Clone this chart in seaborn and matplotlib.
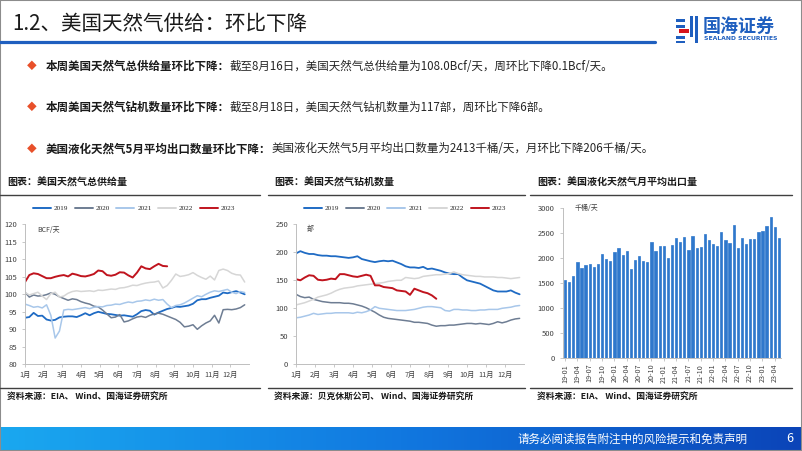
import matplotlib
matplotlib.use("Agg")
import matplotlib.pyplot as plt
import matplotlib.patches as mpatches
from matplotlib.lines import Line2D
from matplotlib.colors import LinearSegmentedColormap
import numpy as np
import pandas as pd
import seaborn as sns

# Dados (valores semanais, 52 semanas por ano)
anos = ["2019", "2020", "2021", "2022", "2023"]
cores_anos = ["#1f6bc4", "#6e7d93", "#a8c7ea", "#d6d6d6", "#c0141e"]

oferta_2019 = [93.3, 93.5, 94.7, 93.8, 93.9, 92.8, 92.5, 92.7, 93.4, 93.6, 93.7, 93.7, 93.5,
               94.0, 94.6, 94.0, 94.6, 95.0, 94.7, 94.4, 94.3, 94.1, 93.9, 94.0, 93.8, 93.6,
               94.3, 95.2, 95.5, 95.3, 94.2, 94.8, 95.3, 95.8, 96.1, 96.5, 96.4, 96.6, 96.8,
               97.3, 98.3, 98.6, 98.6, 99.0, 99.3, 99.6, 100.5, 100.3, 100.6, 100.9, 100.5, 100.0]
oferta_2020 = [100.6, 99.2, 99.8, 99.5, 99.6, 99.9, 100.4, 100.0, 99.3, 98.8, 98.3, 98.7, 98.5,
               97.9, 97.5, 97.2, 96.6, 96.4, 95.5, 94.4, 93.3, 93.5, 94.2, 92.1, 92.4, 93.0,
               93.5, 93.7, 93.4, 94.0, 94.4, 94.6, 94.3, 93.8, 93.3, 92.8, 92.0, 90.7, 90.9,
               91.3, 90.0, 91.0, 91.8, 92.4, 94.0, 91.8, 95.6, 95.7, 95.6, 95.8, 96.2, 97.0]
oferta_2021 = [97.2, 96.8, 96.3, 96.5, 96.1, 97.0, 94.0, 87.5, 89.5, 95.5, 95.7, 95.6, 95.8,
               96.0, 96.2, 95.9, 96.3, 96.5, 96.4, 96.8, 96.9, 97.2, 97.1, 97.5, 97.8, 97.6,
               98.0, 98.1, 98.4, 98.2, 98.6, 98.3, 98.5, 97.2, 96.2, 96.8, 97.0, 97.5, 98.2,
               98.9, 99.6, 99.3, 100.0, 100.6, 101.0, 100.8, 101.1, 101.4, 100.6, 100.2, 100.8, 100.5]
oferta_2022 = [100.5, 99.8, 100.2, 100.6, 99.5, 98.5, 100.2, 100.6, 99.2, 99.5, 100.3, 100.8, 101.0,
               100.8, 100.9, 101.0, 100.8, 101.2, 101.1, 101.3, 101.5, 101.4, 101.8, 101.9, 102.2, 102.6,
               102.5, 102.9, 103.2, 103.4, 103.5, 103.8, 101.8, 102.5, 104.0, 105.8, 105.1, 105.3, 105.6,
               106.2, 105.4, 104.8, 104.3, 105.2, 104.1, 106.8, 107.2, 106.8, 106.0, 105.6, 105.5, 103.5]
oferta_2023 = [103.5, 105.5, 106.0, 105.8, 105.2, 104.6, 104.6, 105.0, 105.3, 105.5, 105.1, 105.9,
               105.6, 105.2, 105.1, 105.4, 105.8, 106.8, 106.6, 105.5, 105.3, 105.6, 106.3, 106.2,
               105.4, 104.8, 106.2, 108.0, 107.4, 107.2, 108.0, 108.7, 108.1, 108.0]

sondas_2019 = [198, 202, 199, 197, 197, 195, 194, 194, 193, 193, 192, 191, 190, 191, 193, 188, 186,
               184, 182.5, 184, 185, 184, 185, 182, 179, 175, 173, 173, 172, 174, 170, 171, 169, 167,
               164, 162, 161, 161, 155, 150, 148, 146, 144, 140, 136, 132, 130, 130, 130, 132, 128, 125]
sondas_2020 = [125, 121, 119, 120, 116, 114, 112, 111, 110, 110, 110, 109, 109, 108, 106, 104, 101,
               97, 93, 88, 84, 82, 81, 80, 79, 78, 77, 75, 75, 74, 73, 70, 68, 69, 69, 70, 70, 71, 72,
               73, 73, 72, 73, 72, 71, 73, 76, 74, 76, 79, 81, 82]
sondas_2021 = [83, 84, 86, 88, 91, 89, 90, 91, 91, 92, 92, 92, 92, 91, 93, 92, 94, 97, 103, 100, 99,
               98, 97, 96, 96, 96, 97, 98, 100, 102, 103, 103, 102, 101, 96, 95, 98, 98, 97, 97, 96,
               96, 97, 97, 98, 98, 98, 100, 101, 102, 104, 105]
sondas_2022 = [106, 108, 110, 113, 116, 120, 122, 124, 127, 131, 134, 136, 137, 138, 140, 141, 142,
               143, 144, 145, 146, 148, 149, 150, 150, 155, 154, 153, 154, 157, 158, 159, 160, 160,
               161, 162, 165, 162, 160, 159, 158, 157, 157, 156, 156, 156, 155, 155, 154, 153, 154, 155]
sondas_2023 = [152, 150, 155, 159, 158, 151, 150, 151, 153, 152, 161, 161, 159, 157, 156, 158, 160,
               158, 141, 141, 138, 137, 136, 132, 131, 130, 124, 135, 132, 129, 127, 123, 117]

# Exportação mensal de GNL (jan/2019 - mai/2023)
exportacao_lng = [1560, 1520, 1650, 1920, 1800, 1860, 1890, 1830, 1880, 2080, 1980, 1950,
                  2130, 2200, 2060, 2140, 1790, 1970, 2040, 1950, 1930, 2330, 2150, 2240,
                  2250, 2000, 2260, 2410, 2330, 2420, 2170, 2450, 2210, 2220, 2490, 2370,
                  2280, 2240, 2520, 2360, 2300, 2670, 2200, 2400, 2290, 2380, 2390, 2520,
                  2550, 2640, 2830, 2619, 2413]
rotulos_lng = [f"{a}-{m:02d}" for a in range(19, 24) for m in range(1, 13)][:len(exportacao_lng)]
meses = ["1月", "2月", "3月", "4月", "5月", "6月", "7月", "8月", "9月", "10月", "11月", "12月"]

sns.set_style("white")
plt.rcParams["font.family"] = ["Noto Sans CJK SC", "DejaVu Sans"]
plt.rcParams["axes.unicode_minus"] = False

W, H = 802, 451
fig = plt.figure(figsize=(W / 100, H / 100), dpi=100)


def fx(x):
    return x / W


def fy(y):
    return 1 - y / H


def eixo(x0, y0, x1, y1):
    return fig.add_axes([fx(x0), fy(y1), (x1 - x0) / W, (y1 - y0) / H])


def linha_fig(x0, x1, y, cor, lw):
    fig.add_artist(Line2D([fx(x0), fx(x1)], [fy(y), fy(y)], color=cor, lw=lw))


def estilo_eixo(ax):
    for lado in ["top", "right"]:
        ax.spines[lado].set_visible(False)
    for lado in ["left", "bottom"]:
        ax.spines[lado].set_color("#bfbfbf")
        ax.spines[lado].set_linewidth(0.7)
    ax.tick_params(axis="both", colors="#bfbfbf", labelcolor="#404040", length=2, width=0.6,
                   labelsize=5.5, left=True, bottom=True)
    ax.set_xlabel("")
    ax.set_ylabel("")


# Faz o gráfico de linhas com uma série por ano
def grafico_linhas(ax, series, ylim, yticks, unidade, x_unidade, y_unidade, legenda_x):
    tabelas = []
    for ano, valores in zip(anos, series):
        tabelas.append(pd.DataFrame({"mes": np.arange(len(valores)) * 12 / 52,
                                     "valor": valores, "ano": ano}))
    dados = pd.concat(tabelas, ignore_index=True)
    sns.lineplot(data=dados, x="mes", y="valor", hue="ano", hue_order=anos,
                 palette=cores_anos, linewidth=1.1, legend=False, ax=ax)
    ax.lines[0].set_linewidth(1.3)
    ax.lines[-1].set_linewidth(1.4)
    ax.set_xlim(0, 12)
    ax.set_ylim(*ylim)
    ax.set_yticks(yticks)
    ax.set_xticks(range(12))
    ax.set_xticklabels(meses)
    estilo_eixo(ax)
    ax.tick_params(axis="x", labelsize=5.2, pad=3)
    fig.text(fx(x_unidade), fy(y_unidade), unidade, fontsize=5, color="#404040", va="center")
    handles = [Line2D([], [], color=c, lw=1.4) for c in cores_anos]
    ax.legend(handles, anos, loc="center", bbox_to_anchor=(fx(legenda_x), fy(208)),
              bbox_transform=fig.transFigure, ncol=5, frameon=False,
              prop={"family": "Liberation Serif", "size": 5.2}, handlelength=2.5,
              handletextpad=0.4, columnspacing=0.9)


# Moldura do slide
fig.add_artist(mpatches.Rectangle((0, 0), 1, 1, transform=fig.transFigure, fill=False,
                                  edgecolor="#8c8c8c", lw=1.5))

# Título e linha azul
fig.text(fx(12), fy(24), "1.2、美国天然气供给：环比下降", fontsize=14.8, color="#1a1a1a", va="center")
linha_fig(0, 655, 41.5, "#1f5fbf", 2.3)

# Logo
ax_logo = eixo(676, 16, 698, 43)
ax_logo.set_xlim(0, 22)
ax_logo.set_ylim(0, 27)
ax_logo.axis("off")
for (x, y, w, h, c) in [(0, 21, 9, 3, "#1f5fbf"), (0, 15, 9, 3, "#1f5fbf"), (3, 10, 10, 4, "#d7141b"),
                        (0, 4, 9, 3, "#1f5fbf"), (0, 0, 9, 2.5, "#1f5fbf"), (14, 6, 3, 21, "#1f5fbf"),
                        (19, 0, 3, 27, "#1f5fbf")]:
    ax_logo.add_patch(mpatches.Rectangle((x, y), w, h, color=c, lw=0))
fig.text(fx(703), fy(26), "国海证券", fontsize=13, color="#1f5fbf", va="center", fontweight="bold")
fig.text(fx(704), fy(39), "SEALAND SECURITIES", fontsize=4.4, color="#1f5fbf", va="center",
         fontweight="bold", family="DejaVu Sans")

# Tópicos
topicos = [
    (66, "本周美国天然气总供给量环比下降：", "截至8月16日，美国天然气总供给量为108.0Bcf/天，周环比下降0.1Bcf/天。"),
    (107, "本周美国天然气钻机数量环比下降：", "截至8月18日，美国天然气钻机数量为117部，周环比下降6部。"),
    (149, "美国液化天然气5月平均出口数量环比下降：", "美国液化天然气5月平均出口数量为2413千桶/天，月环比下降206千桶/天。"),
]
fig.canvas.draw()
renderer = fig.canvas.get_renderer()
for y, negrito, normal in topicos:
    fig.text(fx(27), fy(y), "◆", fontsize=7, color="#e8502a", va="center")
    t = fig.text(fx(46), fy(y), negrito, fontsize=8.3, fontweight="bold", color="#1a1a1a", va="center")
    bb = t.get_window_extent(renderer)
    fig.text(bb.x1 / fig.bbox.width, fy(y), normal, fontsize=8.3, color="#262626", va="center")

# Cabeçalhos e rodapés dos painéis
paineis = [
    (0, 260, 7, "图表：美国天然气总供给量", "资料来源：EIA、 Wind、国海证券研究所"),
    (268, 525, 274, "图表：美国天然气钻机数量", "资料来源：贝克休斯公司、 Wind、国海证券研究所"),
    (530, 792, 537, "图表：美国液化天然气月平均出口量", "资料来源：EIA、 Wind、国海证券研究所"),
]
for x0, x1, xt, titulo, fonte in paineis:
    fig.text(fx(xt), fy(183), titulo, fontsize=7.2, fontweight="bold", color="#1a1a1a", va="center")
    linha_fig(x0, x1, 195, "#404040", 1.0)
    linha_fig(x0, x1, 388, "#404040", 1.0)
    fig.text(fx(xt), fy(397), fonte, fontsize=6.3, fontweight="bold", color="#1a1a1a", va="center")

# Gráfico 1: oferta total
ax1 = eixo(25, 224.3, 249, 364.3)
grafico_linhas(ax1, [oferta_2019, oferta_2020, oferta_2021, oferta_2022, oferta_2023],
               (80, 120), range(80, 121, 5), "BCF/天", 37, 230, 134)

# Gráfico 2: número de sondas
ax2 = eixo(296, 224.3, 524, 364.3)
grafico_linhas(ax2, [sondas_2019, sondas_2020, sondas_2021, sondas_2022, sondas_2023],
               (0, 250), range(0, 251, 50), "部", 307, 229, 405)

# Gráfico 3: exportação de GNL
ax3 = eixo(563, 208.3, 781, 358.3)
dados_lng = pd.DataFrame({"mes": rotulos_lng, "valor": exportacao_lng})
sns.barplot(data=dados_lng, x="mes", y="valor", order=rotulos_lng, color="#2f78cc",
            saturation=1, width=0.55, edgecolor="#2f78cc", linewidth=0.5, ax=ax3)
ax3.set_ylim(0, 3000)
ax3.set_yticks(range(0, 3001, 500))
ax3.set_xticks(range(0, len(rotulos_lng), 3))
ax3.set_xticklabels(rotulos_lng[::3], rotation=90)
estilo_eixo(ax3)
ax3.tick_params(axis="y", pad=4)
ax3.tick_params(axis="x", labelsize=5.2, pad=2)
fig.text(fx(575), fy(208), "千桶/天", fontsize=5, color="#404040", va="center")

# Rodapé com degradê
ax_rodape = fig.add_axes([0, 0, 1, 24 / H])
cmap = LinearSegmentedColormap.from_list("rodape", ["#1aa8f0", "#1178e0", "#0b44b8"])
ax_rodape.imshow(np.linspace(0, 1, 256).reshape(1, -1), aspect="auto", cmap=cmap,
                 extent=[0, 1, 0, 1])
ax_rodape.axis("off")
fig.text(fx(747), fy(439), "请务必阅读报告附注中的风险提示和免责声明", fontsize=8.3, color="white",
         ha="right", va="center")
fig.text(fx(790), fy(439), "6", fontsize=9, color="white", ha="center", va="center")

fig.savefig("out.png", dpi=100)
